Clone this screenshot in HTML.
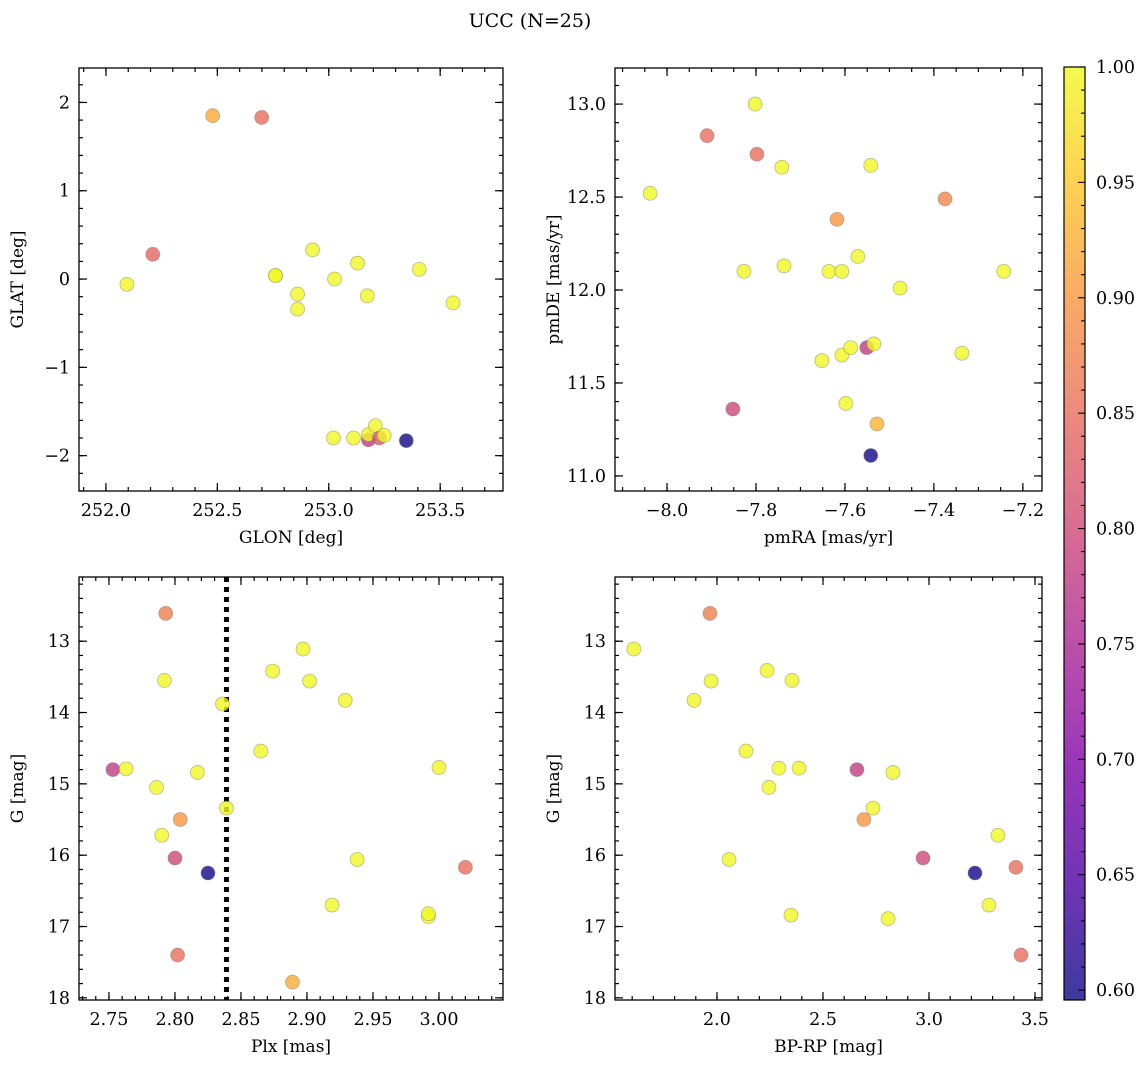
<!DOCTYPE html>
<html><head><meta charset="utf-8">
<style>
html,body{margin:0;padding:0;background:#fff;}
svg{display:block;}
text{font-family:"DejaVu Serif","Liberation Serif",serif;}
</style></head>
<body>
<svg id="fig" width="1148" height="1067" viewBox="0 0 1148 1067">
<defs>
<linearGradient id="plasma" x1="0" y1="1" x2="0" y2="0">
<stop offset="0" stop-color="#0d0887"/><stop offset="0.125" stop-color="#4c02a1"/>
<stop offset="0.25" stop-color="#7e03a8"/><stop offset="0.375" stop-color="#a92395"/>
<stop offset="0.5" stop-color="#cc4778"/><stop offset="0.625" stop-color="#e66c5c"/>
<stop offset="0.75" stop-color="#f89540"/><stop offset="0.875" stop-color="#fdc527"/>
<stop offset="1" stop-color="#f0f921"/>
</linearGradient>
</defs>
<text x="530" y="27" font-size="19" text-anchor="middle" font-family="DejaVu Serif, Liberation Serif, serif">UCC (N=25)</text>
</svg>
<script>
// Panel 1: GLON / GLAT
const glon=[252.479,252.699,252.210,252.094,252.761,252.761,252.860,252.860,252.927,253.026,253.129,253.173,253.406,253.558,253.021,253.111,253.178,253.178,253.209,253.227,253.249,253.348];
const glat=[1.85,1.83,0.28,-0.06,0.04,0.04,-0.17,-0.34,0.33,0.0,0.18,-0.19,0.11,-0.27,-1.80,-1.80,-1.82,-1.76,-1.66,-1.80,-1.77,-1.83];
const prob1=[0.92,0.85,0.84,1,1,1,1,1,1,1,1,1,1,1,1,1,0.78,1,1,0.82,1,0.6];
// Panel 2: pmRA / pmDE
const pmra=[-8.038,-7.802,-7.910,-7.798,-7.742,-7.542,-7.618,-7.375,-7.827,-7.737,-7.636,-7.607,-7.571,-7.476,-7.243,-7.652,-7.607,-7.587,-7.551,-7.535,-7.337,-7.852,-7.598,-7.528,-7.542];
const pmde=[12.52,13.0,12.83,12.73,12.66,12.67,12.38,12.49,12.10,12.13,12.10,12.10,12.18,12.01,12.10,11.62,11.65,11.69,11.69,11.71,11.66,11.36,11.39,11.28,11.11];
const prob2=[1,1,0.85,0.85,1,1,0.9,0.88,1,1,1,1,1,1,1,1,1,1,0.78,1,1,0.8,1,0.93,0.6];
// Panel 3: Plx / G
const plx=[2.793,2.792,2.836,2.874,2.897,2.902,2.929,2.865,2.753,2.763,2.817,2.786,2.804,2.839,2.790,2.800,2.825,2.938,3.0,3.020,2.919,2.992,2.992,2.802,2.889];
const gmag3=[12.61,13.55,13.88,13.42,13.11,13.56,13.83,14.54,14.80,14.79,14.84,15.05,15.50,15.34,15.72,16.04,16.25,16.06,14.77,16.17,16.70,16.86,16.82,17.40,17.78];
const prob3=[0.87,1,1,1,1,1,1,1,0.78,1,1,1,0.9,1,1,0.8,0.6,1,1,0.85,1,1,1,0.85,0.92];
const plxLine=[2.839];
// Panel 4: BP-RP / G
const bprp=[1.608,1.967,1.972,1.892,2.236,2.354,2.137,2.292,2.387,2.660,2.830,2.245,2.736,2.693,3.325,2.057,2.972,3.217,3.410,3.283,2.349,2.807,3.434];
const gmag4=[13.11,12.61,13.56,13.83,13.41,13.55,14.54,14.78,14.78,14.80,14.84,15.05,15.34,15.50,15.72,16.06,16.04,16.25,16.17,16.70,16.84,16.89,17.40];
const prob4=[1,0.87,1,1,1,1,1,1,1,0.78,1,1,1,0.9,1,1,0.8,0.6,0.85,1,1,1,0.85];
// Colorbar ticks
const cbTicks=[0.60,0.65,0.70,0.75,0.80,0.85,0.90,0.95,1.00];

const NS="http://www.w3.org/2000/svg";
const FONT="DejaVu Serif, Liberation Serif, serif";
const svg=document.getElementById('fig');
function mk(tag,attrs,parent){const e=document.createElementNS(NS,tag);for(const k in attrs)e.setAttribute(k,attrs[k]);if(tag==='text')e.setAttribute('font-family',FONT);(parent||svg).appendChild(e);return e;}
const stops=[[0,[13,8,135]],[0.125,[76,2,161]],[0.25,[126,3,168]],[0.375,[169,35,149]],[0.5,[204,71,120]],[0.625,[230,108,92]],[0.75,[248,149,64]],[0.875,[253,197,39]],[1,[240,249,33]]];
const VMIN=0.5957,VMAX=1.0;
function cmap(v){let t=(v-VMIN)/(VMAX-VMIN);t=Math.max(0,Math.min(1,t));
 for(let i=1;i<stops.length;i++){if(t<=stops[i][0]){const a=stops[i-1],b=stops[i];const f=(t-a[0])/(b[0]-a[0]);
 const c=a[1].map((x,j)=>Math.round(x+(b[1][j]-x)*f));return 'rgb('+c.join(',')+')';}}return 'rgb(240,249,33)';}
function fmt(v,d){const s=Math.abs(v).toFixed(d);return (v<-1e-9?'\u2212':'')+s;}

function panel(o){
 const g=mk('g',{});
 
 
 const X=v=>o.x0+(v-o.xmin)/(o.xmax-o.xmin)*(o.x1-o.x0);
 const Y=o.yinv?(v=>o.y0+(v-o.ymin)/(o.ymax-o.ymin)*(o.y1-o.y0)):(v=>o.y1-(v-o.ymin)/(o.ymax-o.ymin)*(o.y1-o.y0));
 const tg=mk('g',{stroke:'#000','stroke-width':1.2},g);
 function ticks(step,len,axis,labels,dec){
  const lo=axis==='x'?o.xmin:o.ymin,hi=axis==='x'?o.xmax:o.ymax;
  for(let k=Math.ceil(lo/step-1e-6);k*step<=hi+1e-9;k++){const v=k*step;
   if(axis==='x'){const px=X(v);mk('line',{x1:px,x2:px,y1:o.y1,y2:o.y1-len},tg);mk('line',{x1:px,x2:px,y1:o.y0,y2:o.y0+len},tg);
    if(labels){const t=mk('text',{x:px,y:o.y1+25,'font-size':17.5,'text-anchor':'middle'},g);t.textContent=fmt(v,dec);
     
     }}
   else{const py=Y(v);mk('line',{y1:py,y2:py,x1:o.x0,x2:o.x0+len},tg);mk('line',{y1:py,y2:py,x1:o.x1,x2:o.x1-len},tg);
    if(labels){const t=mk('text',{x:o.x0-9,y:py+6,'font-size':17.5,'text-anchor':'end'},g);t.textContent=fmt(v,dec);
     
     }}
  }}
 ticks(o.xminor,4,'x',false);ticks(o.xmajor,8,'x',true,o.xdec);
 ticks(o.yminor,4,'y',false);ticks(o.ymajor,8,'y',true,o.ydec);
 if(o.vline){o.vline.forEach(v=>{const l=mk('line',{x1:X(v),x2:X(v),y1:o.y0,y2:o.y1,stroke:'#000','stroke-width':5,'stroke-dasharray':'5,5'},g);
  
  });}
 o.xs.forEach((xv,i)=>{const c=mk('circle',{cx:X(xv),cy:Y(o.ys[i]),r:7,fill:cmap(o.ps[i]),'fill-opacity':0.8,stroke:'#777','stroke-opacity':0.5,'stroke-width':0.8},g);
  
  });
 const fr=mk('rect',{x:o.x0,y:o.y0,width:o.x1-o.x0,height:o.y1-o.y0,fill:'none',stroke:'#000','stroke-width':1.3},g);
 
 
 const xl=mk('text',{x:(o.x0+o.x1)/2,y:o.y1+52,'font-size':17,'text-anchor':'middle'},g);xl.textContent=o.xlabel;
 
 
 const cy=(o.y0+o.y1)/2,cx=o.x0-56;
 const yl=mk('text',{x:cx,y:cy,'font-size':17,'text-anchor':'middle',transform:'rotate(-90 '+cx+' '+cy+')'},g);yl.textContent=o.ylabel;
 
 
}
panel({name:'glon-glat-panel',x0:79,x1:503,y0:68,y1:491,xmin:251.879,xmax:253.782,ymin:-2.40,ymax:2.39,xmajor:0.5,xminor:0.1,ymajor:1,yminor:0.2,xdec:1,ydec:0,xs:glon,ys:glat,ps:prob1,xlabel:'GLON [deg]',ylabel:'GLAT [deg]'});
panel({name:'pm-panel',x0:615,x1:1042,y0:68,y1:491,xmin:-8.117,xmax:-7.157,ymin:10.919,ymax:13.194,xmajor:0.2,xminor:0.05,ymajor:0.5,yminor:0.1,xdec:1,ydec:1,xs:pmra,ys:pmde,ps:prob2,xlabel:'pmRA [mas/yr]',ylabel:'pmDE [mas/yr]'});
panel({name:'plx-g-panel',x0:79,x1:503,y0:577,y1:1000,xmin:2.7273,xmax:3.0485,ymin:12.10,ymax:18.03,yinv:true,xmajor:0.05,xminor:0.01,ymajor:1,yminor:0.2,xdec:2,ydec:0,xs:plx,ys:gmag3,ps:prob3,vline:plxLine,xlabel:'Plx [mas]',ylabel:'G [mag]'});
panel({name:'cmd-panel',x0:615,x1:1042,y0:577,y1:1000,xmin:1.519,xmax:3.533,ymin:12.10,ymax:18.03,yinv:true,xmajor:0.5,xminor:0.1,ymajor:1,yminor:0.2,xdec:1,ydec:0,xs:bprp,ys:gmag4,ps:prob4,xlabel:'BP-RP [mag]',ylabel:'G [mag]'});
const cb=mk('g',{});


const cbx0=1064,cbx1=1085,cby0=67,cby1=1000;
mk('rect',{x:cbx0,y:cby0,width:cbx1-cbx0,height:cby1-cby0,fill:'url(#plasma)','fill-opacity':0.8},cb);
mk('rect',{x:cbx0,y:cby0,width:cbx1-cbx0,height:cby1-cby0,fill:'none',stroke:'#000','stroke-width':1.2},cb);
const CY=v=>cby1-(v-VMIN)/(VMAX-VMIN)*(cby1-cby0);
for(let k=Math.ceil(VMIN*100);k<=100;k++){const py=CY(k/100);mk('line',{x1:cbx1,x2:cbx1-(k%5===0?7:4),y1:py,y2:py,stroke:'#000','stroke-width':1.1},cb);}
cbTicks.forEach(v=>{const t=mk('text',{x:1096,y:CY(v)+6,'font-size':17.5},cb);t.textContent=v.toFixed(2);
 
 });
</script>
</body></html>
